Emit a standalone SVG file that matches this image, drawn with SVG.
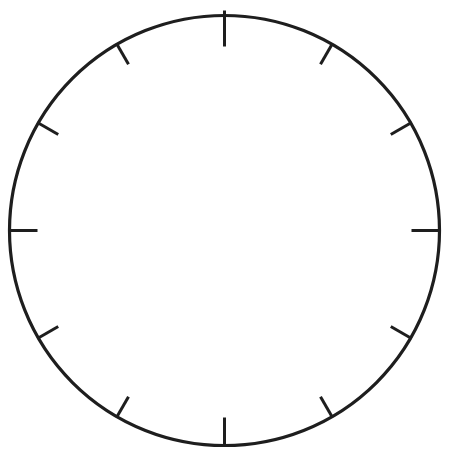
<svg xmlns="http://www.w3.org/2000/svg" width="453" height="457" viewBox="0 0 453 457">
<style>
.face{fill:none;stroke:#1e1e1e;stroke-width:3.2}
.tick{stroke:#1e1e1e;stroke-width:3;stroke-linecap:butt}
</style>
<rect width="453" height="457" fill="#ffffff"/>
<g id="clock" transform="translate(224.5,230.5)">
<circle class="face" cx="0" cy="0" r="215"/>
<g id="ticks">
<line class="tick" x1="0" y1="-220" x2="0" y2="-184"/>
<line class="tick" x1="0" y1="-216" x2="0" y2="-192" transform="rotate(30)"/>
<line class="tick" x1="0" y1="-216" x2="0" y2="-192" transform="rotate(60)"/>
<line class="tick" x1="0" y1="-216" x2="0" y2="-187" transform="rotate(90)"/>
<line class="tick" x1="0" y1="-216" x2="0" y2="-192" transform="rotate(120)"/>
<line class="tick" x1="0" y1="-216" x2="0" y2="-192" transform="rotate(150)"/>
<line class="tick" x1="0" y1="-216" x2="0" y2="-187" transform="rotate(180)"/>
<line class="tick" x1="0" y1="-216" x2="0" y2="-192" transform="rotate(210)"/>
<line class="tick" x1="0" y1="-216" x2="0" y2="-192" transform="rotate(240)"/>
<line class="tick" x1="0" y1="-216" x2="0" y2="-187" transform="rotate(270)"/>
<line class="tick" x1="0" y1="-216" x2="0" y2="-192" transform="rotate(300)"/>
<line class="tick" x1="0" y1="-216" x2="0" y2="-192" transform="rotate(330)"/>
</g>
</g>
</svg>
